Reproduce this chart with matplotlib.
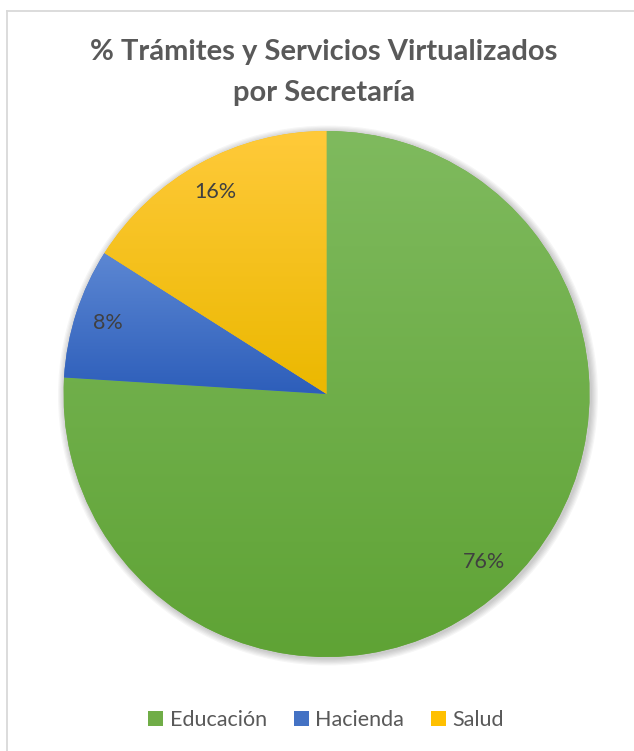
import numpy as np
import matplotlib.pyplot as plt
from matplotlib.colors import LinearSegmentedColormap
from matplotlib.patches import Circle
from matplotlib.lines import Line2D

plt.rcParams['font.family'] = ['Lato', 'DejaVu Sans']

# Datos
secretarias = ['Educación', 'Hacienda', 'Salud']
porcentajes = [76, 8, 16]
colores = ['#70ad47', '#4472c4', '#ffc000']
# degradado (arriba, abajo) de cada porción
degradados = [('#7fba5e', '#5fa335'), ('#5c87d3', '#2d5eba'), ('#ffca3a', '#ebb800')]

W, H = 634, 751
fig = plt.figure(figsize=(W / 100, H / 100), dpi=100)
ax = fig.add_axes([0, 0, 1, 1])

cx, cy, r = 326.5, H - 394, 263

# sombra suave
for k in range(6):
    ax.add_patch(Circle((cx + 1.5, cy - 1.5), r + 1 + k * 1.2, color='black',
                        alpha=0.035, lw=0, zorder=0.5))

wedges, _, autotexts = ax.pie(porcentajes, colors=colores, startangle=90,
                              counterclock=False, center=(cx, cy), radius=r,
                              autopct='%1.0f%%', pctdistance=0.875,
                              wedgeprops=dict(linewidth=0),
                              textprops=dict(fontsize=15.5, color='#404040'))

for w, (c0, c1) in zip(wedges, degradados):
    t = np.radians(np.linspace(w.theta1, w.theta2, 200))
    xs = np.concatenate([[cx], cx + r * np.cos(t)])
    ys = np.concatenate([[cy], cy + r * np.sin(t)])
    cmap = LinearSegmentedColormap.from_list('g', [c1, c0])
    grad = np.linspace(0, 1, 256).reshape(-1, 1)
    im = ax.imshow(grad, cmap=cmap, origin='lower', aspect='auto',
                   extent=(xs.min(), xs.max(), ys.min(), ys.max()), zorder=2)
    im.set_clip_path(w)

for t in autotexts:
    t.set_zorder(3)

ax.set_xlim(0, W)
ax.set_ylim(0, H)
ax.axis('off')

# título
fig.text(324 / W, 1 - 60 / H, '% Trámites y Servicios Virtualizados', ha='center',
         va='baseline', fontsize=21, fontweight='bold', color='#595959')
fig.text(324 / W, 1 - 101 / H, 'por Secretaría', ha='center',
         va='baseline', fontsize=21, fontweight='bold', color='#595959')

# leyenda
fig.legend(wedges, secretarias, loc='center', bbox_to_anchor=(326 / W, 1 - 720 / H),
           ncol=3, frameon=False, fontsize=15.5, labelcolor='#595959',
           handlelength=0.7, handleheight=0.7, handletextpad=0.3,
           columnspacing=1.25)

# borde del área del gráfico
fig.add_artist(Line2D([6.5 / W, 6.5 / W], [0, 1 - 10.5 / H], color='#d9d9d9', lw=1.3))
fig.add_artist(Line2D([6.5 / W, 1], [1 - 10.5 / H, 1 - 10.5 / H], color='#d9d9d9', lw=1.3))

fig.savefig('out.png', dpi=100, facecolor='white')
